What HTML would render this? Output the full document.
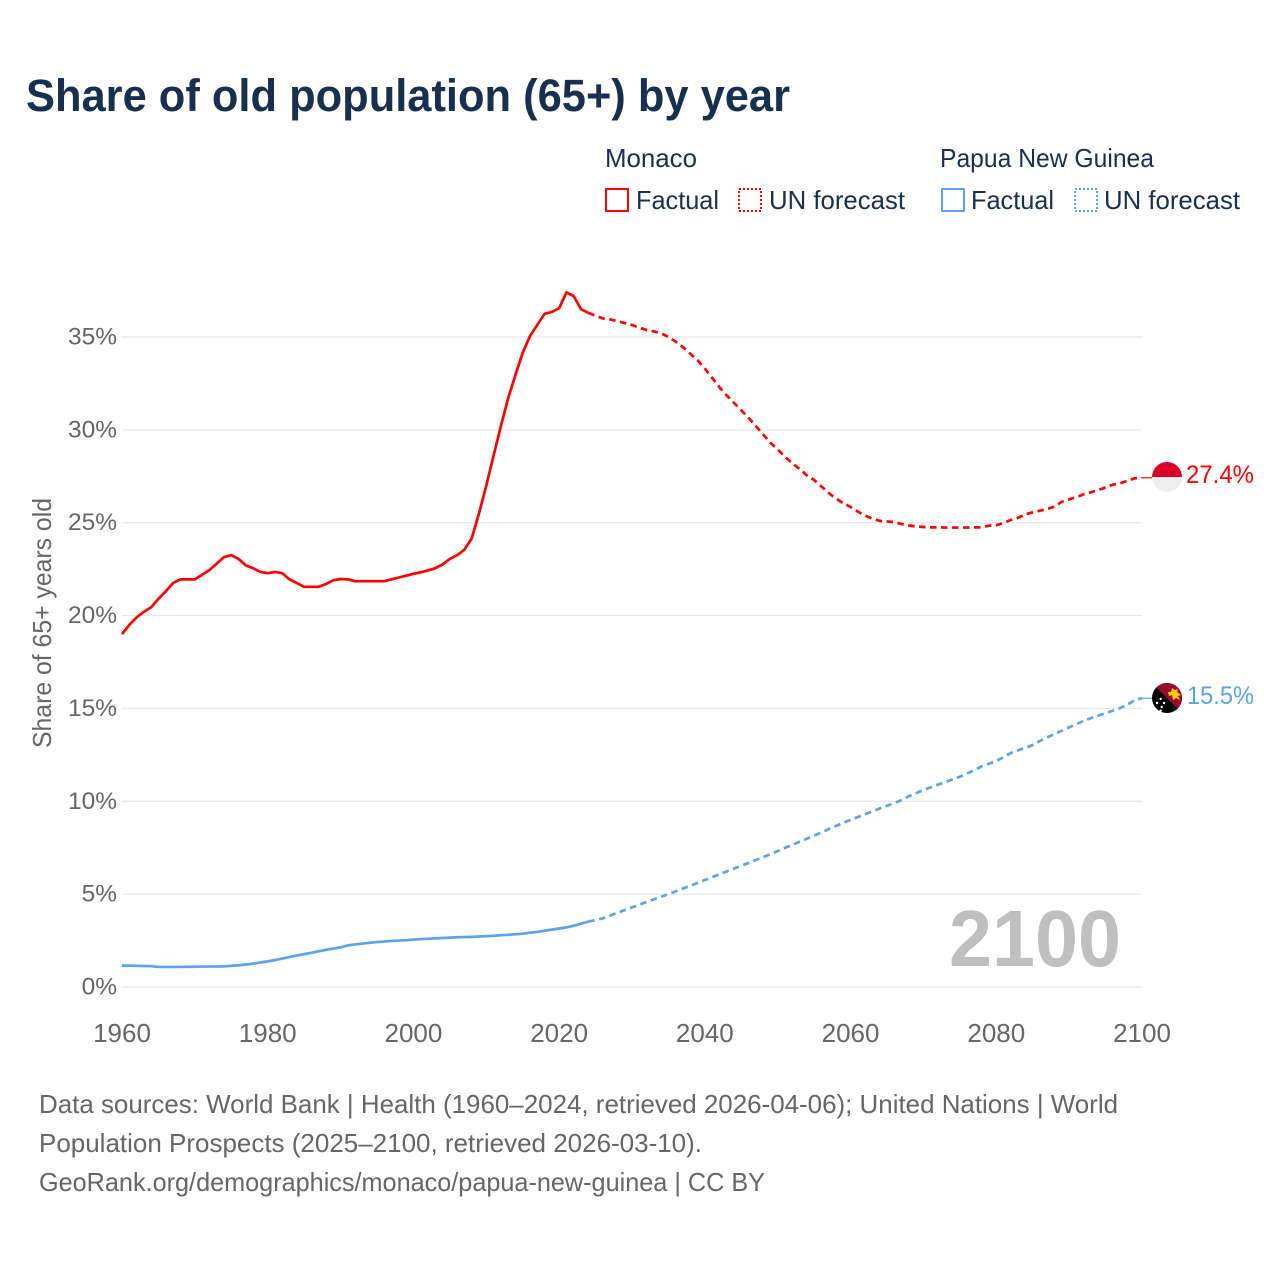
<!DOCTYPE html>
<html lang="en">
<head>
<meta charset="utf-8">
<title>Share of old population (65+) by year</title>
<style>
html,body{margin:0;padding:0;background:#fff;}
svg{display:block;font-family:"Liberation Sans",sans-serif;}
</style>
</head>
<body>
<svg id="chart" width="1280" height="1280" viewBox="0 0 1280 1280" xmlns="http://www.w3.org/2000/svg">
  <defs>
    <clipPath id="flag-clip-mc"><circle cx="1167" cy="477" r="15"/></clipPath>
    <clipPath id="flag-clip-pg"><circle cx="1167" cy="698" r="15"/></clipPath>
  </defs>
  <rect width="1280" height="1280" fill="#fff"/>
  <text x="26" y="111" font-size="45" font-weight="700" fill="#18304f" textLength="764" lengthAdjust="spacingAndGlyphs">Share of old population (65+) by year</text>

  <g font-size="26" fill="#18304f">
    <text x="605" y="167" textLength="92" lengthAdjust="spacingAndGlyphs">Monaco</text>
    <rect x="606" y="189" width="22" height="22" fill="none" stroke="#ff0000" stroke-width="2"/>
    <text x="636" y="209" textLength="83" lengthAdjust="spacingAndGlyphs">Factual</text>
    <rect x="739" y="189" width="22" height="22" fill="none" stroke="#ff0000" stroke-width="2" stroke-dasharray="2 2"/>
    <text x="769" y="209" textLength="136" lengthAdjust="spacingAndGlyphs">UN forecast</text>
    <text x="940" y="167" textLength="214" lengthAdjust="spacingAndGlyphs">Papua New Guinea</text>
    <rect x="942" y="189" width="22" height="22" fill="none" stroke="#5ba4ec" stroke-width="2"/>
    <text x="971" y="209" textLength="83" lengthAdjust="spacingAndGlyphs">Factual</text>
    <rect x="1075" y="189" width="22" height="22" fill="none" stroke="#5ba4ec" stroke-width="2" stroke-dasharray="2 2"/>
    <text x="1104" y="209" textLength="136" lengthAdjust="spacingAndGlyphs">UN forecast</text>
  </g>

  <g id="grid"></g>
  <g id="yticks"></g>
  <g id="xticks"></g>
  <text transform="translate(51,748) rotate(-90)" font-size="26" fill="#666666" textLength="250" lengthAdjust="spacingAndGlyphs">Share of 65+ years old</text>
  <text x="1121" y="966" text-anchor="end" font-size="80" font-weight="700" fill="#bfbfbf" textLength="172" lengthAdjust="spacingAndGlyphs">2100</text>

  <g id="series"></g>

  <g clip-path="url(#flag-clip-mc)">
    <rect x="1152" y="462" width="30" height="15" fill="#d80027"/>
    <rect x="1152" y="477" width="30" height="15" fill="#eeeeee"/>
  </g>
  <text id="label-mc" x="1186" y="483" font-size="25" fill="#ff0000" textLength="68" lengthAdjust="spacingAndGlyphs">27.4%</text>

  <g clip-path="url(#flag-clip-pg)">
    <rect x="1152" y="683" width="30" height="30" fill="#000000"/>
    <polygon points="1152,683 1182,683 1182,713" fill="#9b0b2b"/>
    <polygon points="1168,692 1171,692 1172,688 1175,690 1178,689 1177,692 1181,695 1178,696 1180,700 1176,698 1173,700 1172,695 1169,696" fill="#ffc61e"/>
    <circle cx="1160.7" cy="699" r="1.2" fill="#fff"/>
    <circle cx="1157" cy="703" r="1.2" fill="#fff"/>
    <circle cx="1164" cy="703" r="1.2" fill="#fff"/>
    <circle cx="1161.7" cy="707" r="1.2" fill="#fff"/>
    <circle cx="1160.7" cy="710.7" r="1.2" fill="#fff"/>
  </g>
  <text id="label-pg" x="1187" y="704" font-size="25" fill="#5ba4ec" textLength="67" lengthAdjust="spacingAndGlyphs">15.5%</text>

  <g font-size="26" fill="#666666">
    <text x="39" y="1113" textLength="1079" lengthAdjust="spacingAndGlyphs">Data sources: World Bank | Health (1960–2024, retrieved 2026-04-06); United Nations | World</text>
    <text x="39" y="1152" textLength="663" lengthAdjust="spacingAndGlyphs">Population Prospects (2025–2100, retrieved 2026-03-10).</text>
    <text x="39" y="1191" textLength="726" lengthAdjust="spacingAndGlyphs">GeoRank.org/demographics/monaco/papua-new-guinea | CC BY</text>
  </g>
</svg>
<script>
var yTickValues = [0, 5, 10, 15, 20, 25, 30, 35];
var xTickYears = [1960, 1980, 2000, 2020, 2040, 2060, 2080, 2100];

var factualStartYear = 1960;
var monacoFactual = [
  19.0, 19.5, 19.9, 20.2, 20.45, 20.9, 21.3, 21.75, 21.95, 21.95,
  21.95, 22.2, 22.45, 22.8, 23.15, 23.25, 23.05, 22.7, 22.55, 22.35,
  22.28, 22.35, 22.28, 21.95, 21.75, 21.55, 21.55, 21.55, 21.7, 21.9,
  21.97, 21.95, 21.85, 21.85, 21.85, 21.85, 21.85, 21.95, 22.05, 22.15,
  22.25, 22.33, 22.43, 22.55, 22.75, 23.05, 23.25, 23.55, 24.15, 25.5,
  27.0, 28.6, 30.2, 31.7, 32.95, 34.15, 35.05, 35.65, 36.25, 36.35,
  36.55, 37.4, 37.2, 36.5, 36.3
];
var monacoForecastStartYear = 2024;
var monacoForecast = [
  36.3, 36.15, 36.0, 35.95, 35.85, 35.75, 35.65, 35.5, 35.38, 35.3,
  35.2, 35.0, 34.75, 34.45, 34.1, 33.75, 33.3, 32.8, 32.3, 31.85,
  31.45, 31.05, 30.65, 30.2, 29.75, 29.3, 28.95, 28.55, 28.2, 27.9,
  27.55, 27.3, 26.95, 26.6, 26.3, 26.05, 25.85, 25.6, 25.38, 25.22,
  25.1, 25.07, 25.03, 24.93, 24.85, 24.8, 24.77, 24.75, 24.75, 24.74,
  24.74, 24.74, 24.74, 24.75, 24.75, 24.84, 24.87, 24.98, 25.15, 25.27,
  25.45, 25.56, 25.65, 25.74, 25.87, 26.13, 26.26, 26.37, 26.53, 26.64,
  26.76, 26.9, 27.05, 27.12, 27.26, 27.39, 27.42
];

var pngFactual = [
  1.15, 1.15, 1.14, 1.13, 1.12, 1.08, 1.08, 1.08, 1.08, 1.09,
  1.09, 1.1, 1.1, 1.1, 1.11, 1.14, 1.17, 1.21, 1.26, 1.32,
  1.38, 1.45, 1.53, 1.61, 1.69, 1.77, 1.84, 1.92, 2.0, 2.07,
  2.14, 2.24, 2.29, 2.34, 2.38, 2.42, 2.45, 2.48, 2.5, 2.52,
  2.55, 2.58, 2.6, 2.62, 2.64, 2.66, 2.68, 2.69, 2.7, 2.72,
  2.74, 2.76, 2.79, 2.81, 2.84, 2.87, 2.92, 2.97, 3.03, 3.09,
  3.15, 3.21, 3.3, 3.41, 3.52
];
var pngForecastStartYear = 2024;
var pngForecast = [
  3.52, 3.6, 3.7, 3.85, 4.0, 4.14, 4.29, 4.43, 4.58, 4.72,
  4.86, 5.0, 5.15, 5.3, 5.45, 5.6, 5.76, 5.91, 6.07, 6.22,
  6.38, 6.53, 6.68, 6.84, 6.99, 7.15, 7.32, 7.49, 7.65, 7.82,
  7.98, 8.15, 8.32, 8.5, 8.67, 8.84, 9.0, 9.15, 9.3, 9.46,
  9.61, 9.76, 9.9, 10.07, 10.27, 10.44, 10.61, 10.75, 10.9, 11.03,
  11.18, 11.32, 11.5, 11.68, 11.88, 12.02, 12.17, 12.38, 12.6, 12.75,
  12.88, 13.03, 13.25, 13.45, 13.62, 13.8, 13.98, 14.15, 14.33, 14.48,
  14.62, 14.74, 14.88, 15.02, 15.2, 15.45, 15.55
];

var SVG_NS = 'http://www.w3.org/2000/svg';
function xScale(year) { return 122 + (year - 1960) * (1142 - 122) / 140; }
function yScale(value) { return 987 - value * (987 - 337) / 35; }

function svgEl(tag, parent) {
  var el = document.createElementNS(SVG_NS, tag);
  parent.appendChild(el);
  return el;
}
function linePoints(startYear, values) {
  return values.map(function (v, i) {
    return xScale(startYear + i).toFixed(2) + ',' + yScale(v).toFixed(2);
  }).join(' ');
}

var gridGroup = document.getElementById('grid');
var yTickGroup = document.getElementById('yticks');
var xTickGroup = document.getElementById('xticks');
var seriesGroup = document.getElementById('series');

yTickValues.forEach(function (v) {
  var line = svgEl('line', gridGroup);
  
  
  line.setAttribute('x1', 122);
  line.setAttribute('x2', 1142);
  line.setAttribute('y1', yScale(v));
  line.setAttribute('y2', yScale(v));
  line.setAttribute('stroke', '#e8e8e8');
  line.setAttribute('stroke-width', '1.2');

  var label = svgEl('text', yTickGroup);
  
  
  label.setAttribute('x', 117);
  label.setAttribute('y', yScale(v) + 7.5);
  label.setAttribute('text-anchor', 'end');
  label.setAttribute('font-size', '24.5');
  label.setAttribute('fill', '#666666');
  label.textContent = v + '%';
});

xTickYears.forEach(function (year) {
  var label = svgEl('text', xTickGroup);
  
  
  label.setAttribute('x', xScale(year));
  label.setAttribute('y', 1042);
  label.setAttribute('text-anchor', 'middle');
  label.setAttribute('font-size', '26');
  label.setAttribute('fill', '#666666');
  label.textContent = String(year);
});

function drawSeries(name, color, factual, forecastStart, forecast) {
  var solid = svgEl('polyline', seriesGroup);
  
  
  solid.setAttribute('points', linePoints(factualStartYear, factual));
  solid.setAttribute('fill', 'none');
  solid.setAttribute('stroke', color);
  solid.setAttribute('stroke-width', '2.7');
  solid.setAttribute('stroke-linejoin', 'round');

  var dashed = svgEl('polyline', seriesGroup);
  
  
  dashed.setAttribute('points', linePoints(forecastStart, forecast));
  dashed.setAttribute('fill', 'none');
  dashed.setAttribute('stroke', color);
  dashed.setAttribute('stroke-width', '2.7');
  dashed.setAttribute('stroke-dasharray', '6.5 4.5');

  var lastValue = forecast[forecast.length - 1];
  var connector = svgEl('line', seriesGroup);
  
  
  connector.setAttribute('x1', xScale(2100));
  connector.setAttribute('x2', 1153);
  connector.setAttribute('y1', yScale(lastValue));
  connector.setAttribute('y2', yScale(lastValue));
  connector.setAttribute('stroke', color);
  connector.setAttribute('stroke-width', '1.2');
}

drawSeries('monaco', '#ff0000', monacoFactual, monacoForecastStartYear, monacoForecast);
drawSeries('papua-new-guinea', '#5ba4ec', pngFactual, pngForecastStartYear, pngForecast);
</script>
</body>
</html>
